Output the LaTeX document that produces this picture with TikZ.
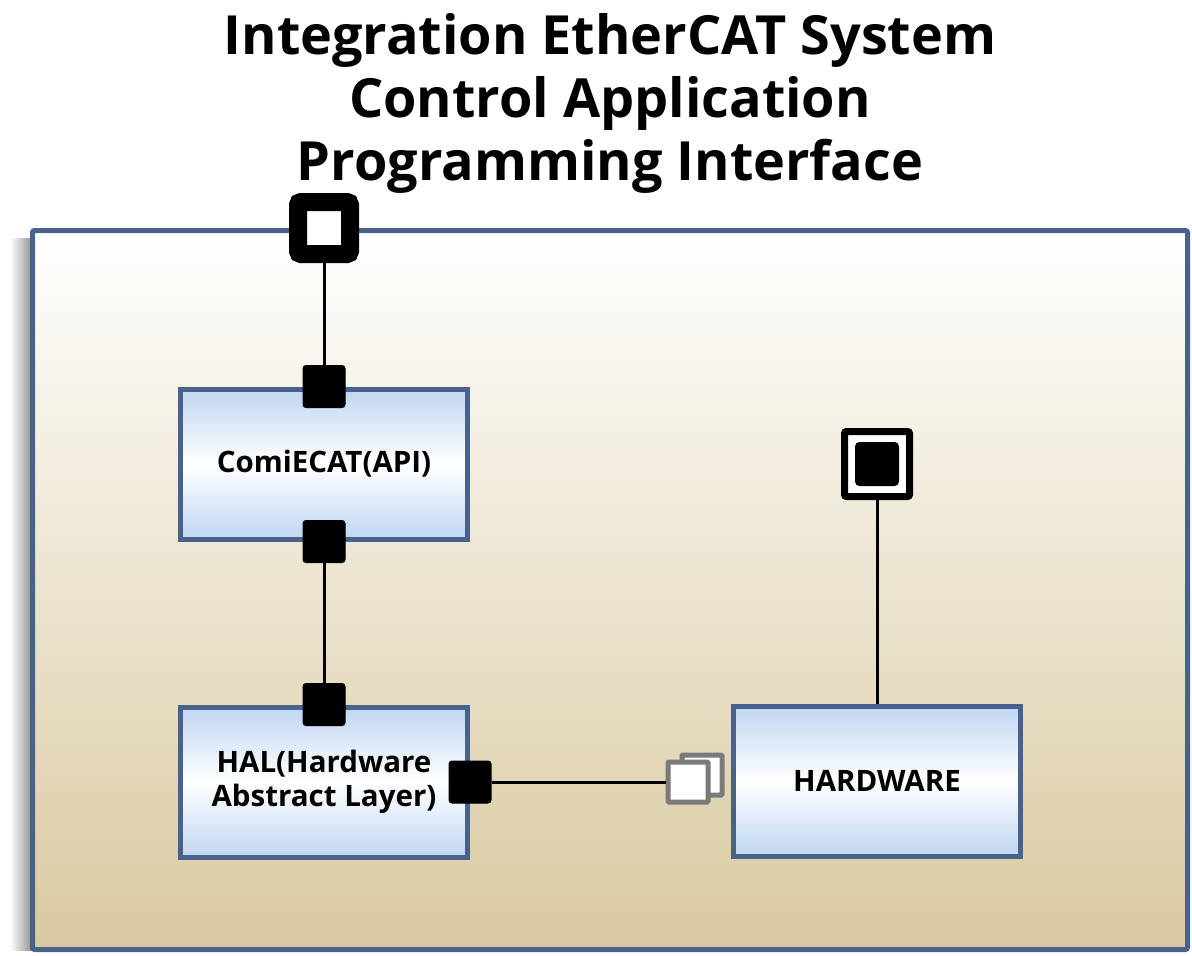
\documentclass[tikz,border=0pt]{standalone}
\usepackage{fontspec}
\setmainfont{Open Sans}
\usetikzlibrary{positioning}

\definecolor{edgeblue}{RGB}{72,98,140}
\definecolor{boxblue}{RGB}{192,214,242}
\definecolor{sandtan}{RGB}{217,201,160}
\definecolor{shadowgray}{RGB}{150,150,150}
\definecolor{portgray}{RGB}{122,122,122}

\tikzset{
	sysframe/.style={draw=edgeblue, line width=5pt, top color=white, bottom color=sandtan, minimum width=1155pt, minimum height=719pt, inner sep=0pt, rounded corners=2pt},
	component/.style={draw=edgeblue, line width=5pt, top color=boxblue, bottom color=boxblue, middle color=white, minimum width=287pt, minimum height=150pt, inner sep=0pt, align=center, font=\bfseries\fontsize{29.5}{34}\selectfont},
	port/.style={fill=black, draw=black, line width=1pt, minimum size=42pt, inner sep=0pt, rounded corners=3pt},
	sysport/.style={fill=white, draw=black, line width=18pt, minimum size=52pt, inner sep=0pt, rounded corners=3pt},
	outport/.style={fill=white, draw=black, line width=7pt, minimum size=65pt, inner sep=0pt, rounded corners=2pt},
	inport/.style={fill=white, draw=portgray, line width=5pt, minimum size=40pt, inner sep=0pt, rounded corners=1pt},
	wire/.style={draw=black, line width=3pt}
}

\begin{document}
\begin{tikzpicture}[x=1pt, y=-1pt]
		\useasboundingbox (0, 0) rectangle (1192, 956);

		\node [align=center, font=\bfseries\fontsize{54}{63}\selectfont]	(title) at (610, 103) {Integration EtherCAT System\\Control Application\\Programming Interface};

		\shade [left color=white, right color=shadowgray]	(10, 238) rectangle (31, 950);
		\node [sysframe]	(system) at (610, 590) {};

		\node [component]	(api) at (324, 464) {ComiECAT(API)};
		\node [component]	(hal) at (324, 782) {HAL(Hardware\\Abstract Layer)};
		\node [component]	(hw) at (877, 781) {HARDWARE};

		\node [sysport]	(sysPort) at (api.north |- system.north) {};
		\node [port]	(apiTop) at (api.north) {};
		\node [port]	(apiBottom) at (api.south) {};
		\node [port]	(halTop) at (hal.north) {};
		\node [port]	(halRight) at (hal.east) {};

		\node [outport]	(hwPort) at (877, 464) {};
		\node [port, minimum size=43pt, rounded corners=4pt]	(hwPortCore) at (hwPort.center) {};

		\node [inport]	(hwInBack) at ([xshift=-29pt, yshift=6pt]hw.west) {};
		\node [inport, left=-31pt of hwInBack, yshift=-7pt]	(hwIn) {};

		\draw [wire]	(sysPort) to (apiTop);
		\draw [wire]	(apiBottom) to (halTop);
		\draw [wire]	(halRight) to (hwIn.west);
		\draw [wire]	(hwPort) to (hw);
	\end{tikzpicture}
\end{document}
